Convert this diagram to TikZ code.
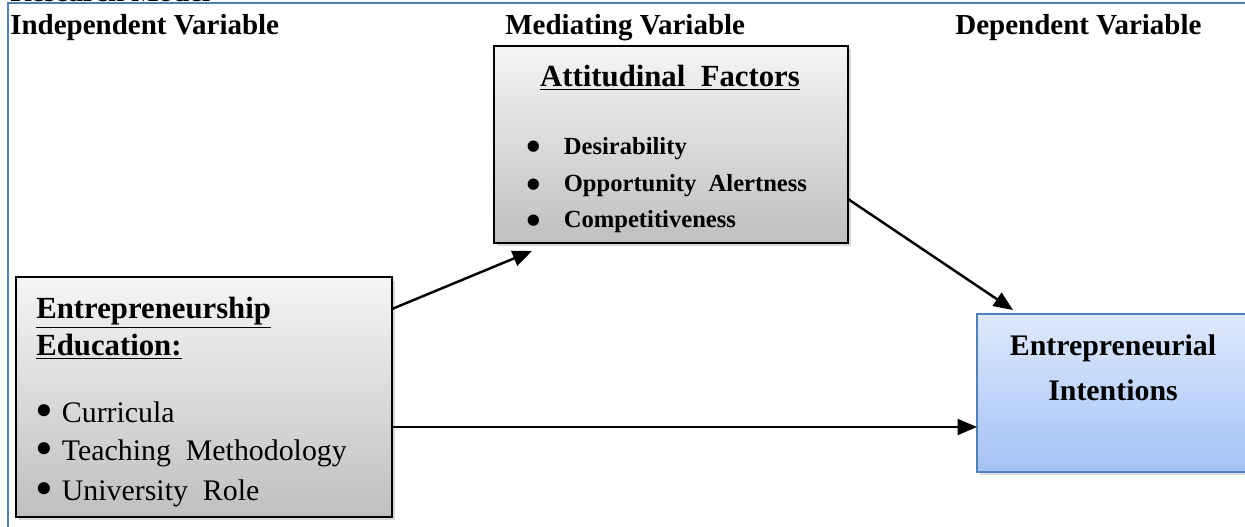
\documentclass[tikz,border=0pt]{standalone}
\usepackage{fontspec}
\setmainfont{Liberation Serif}
\usetikzlibrary{arrows.meta,shadows,calc}
\definecolor{framecol}{RGB}{79,129,189}
\definecolor{introp}{RGB}{222,233,252}
\definecolor{inbot}{RGB}{164,194,244}
\newcommand{\bigdot}[1]{\raisebox{#1}{\scalebox{1.7}{\textbullet}}}
\begin{document}
\begin{tikzpicture}[x=0.02cm,y=-0.02cm,
        greybox/.style={draw=black,line width=1.1pt,inner sep=0pt,outer sep=0pt,
            top color=gray!8,bottom color=gray!50,
            drop shadow={opacity=0.3,shadow xshift=0.06cm,shadow yshift=-0.07cm}},
        bluebox/.style={draw=framecol,line width=1.1pt,inner sep=0pt,outer sep=0pt,
            top color=introp,bottom color=inbot,
            drop shadow={opacity=0.3,shadow xshift=0.06cm,shadow yshift=-0.07cm}},
        head/.style={anchor=base west,inner sep=0pt,font=\fontsize{16.5}{19}\selectfont\bfseries},
        conn/.style={line width=1.4pt,-{Triangle[length=11pt,width=9pt]}}]
        \useasboundingbox (0,0) rectangle (1245,527);
        % frame and headings
        \node[head] (title) at (10,2) {Research Model};
        \draw[framecol,line width=1.2pt] (8,540) -- (8,3) -- (1260,3);
        \node[head] (indep) at (10,35) {Independent Variable};
        \node[head] (medi) at (505,35) {Mediating Variable};
        \node[head] (dep) at (955,35) {Dependent Variable};
        % boxes
        \node[greybox,anchor=north west,minimum width=7.08cm,minimum height=3.94cm] (att) at (494,46) {};
        \node[greybox,anchor=north west,minimum width=7.52cm,minimum height=4.8cm] (edu) at (16,277) {};
        \node[bluebox,anchor=north west,minimum width=6cm,minimum height=3.16cm] (intent) at (977,314) {};
        % mediating variable text
        \node[anchor=base,inner sep=0pt,font=\fontsize{17.5}{20}\selectfont\bfseries] (attT) at (670,87) {\underline{Attitudinal~ Factors}};
        \node[anchor=base west,inner sep=0pt,font=\fontsize{14}{16}\selectfont\bfseries] (att1) at (526,154) {\bigdot{-3.8pt}\hspace{13pt}Desirability};
        \node[anchor=base west,inner sep=0pt,font=\fontsize{14}{16}\selectfont\bfseries] (att2) at (526,192) {\bigdot{-3.8pt}\hspace{13pt}Opportunity~ Alertness};
        \node[anchor=base west,inner sep=0pt,font=\fontsize{14}{16}\selectfont\bfseries] (att3) at (526,228) {\bigdot{-3.8pt}\hspace{13pt}Competitiveness};
        % independent variable text
        \node[anchor=base west,inner sep=0pt,font=\fontsize{17.5}{20}\selectfont\bfseries] (eduT1) at (36,318) {\underline{Entrepreneurship}};
        \node[anchor=base west,inner sep=0pt,font=\fontsize{17.5}{20}\selectfont\bfseries] (eduT2) at (36,355) {\underline{Education:}};
        \node[anchor=base west,inner sep=0pt,font=\fontsize{17}{20}\selectfont] (edu1) at (35,422) {\bigdot{-3.2pt}\hspace{5pt}Curricula};
        \node[anchor=base west,inner sep=0pt,font=\fontsize{17}{20}\selectfont] (edu2) at (35,460) {\bigdot{-3.2pt}\hspace{5pt}Teaching~ Methodology};
        \node[anchor=base west,inner sep=0pt,font=\fontsize{17}{20}\selectfont] (edu3) at (35,500) {\bigdot{-3.2pt}\hspace{5pt}University~ Role};
        % dependent variable text
        \node[anchor=base,inner sep=0pt,font=\fontsize{17}{20}\selectfont\bfseries] (intT1) at (1113,355) {Entrepreneurial};
        \node[anchor=base,inner sep=0pt,font=\fontsize{17}{20}\selectfont\bfseries] (intT2) at (1113,400) {Intentions};
        % connectors
        \coordinate (low) at ($(edu.north east)+(0,150)$);
        \draw[conn] ($(edu.north east)+(0,32)$) -- ($(att.south west)+(38,8)$);
        \draw[conn] ($(att.south east)+(0,-44)$) -- ($(intent.north west)+(36,-4)$);
        \draw[conn] (low) -- (low -| intent.west);
\end{tikzpicture}
\end{document}
